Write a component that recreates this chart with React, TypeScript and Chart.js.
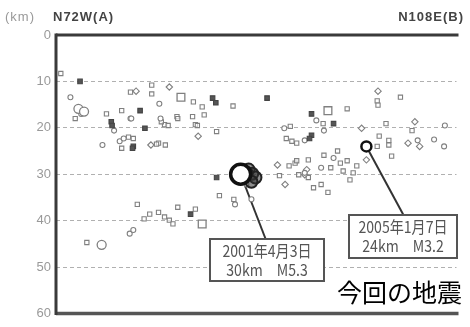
import React, { useEffect, useRef } from "react";
import { Chart, registerables } from "chart.js";
Chart.register(...registerables);

type P = [number, number]; // [distance km along profile, depth km]

const depthTicks = [0, 10, 20, 30, 40, 50, 60];
const titleLeft = "N72W(A)";
const titleRight = "N108E(B)";
const unitLabel = "(km)";
const headline = "今回の地震";

const openCircles: P[] = [
  [3.6, 13.4], [6.3, 17.0], [14.5, 20.6], [18.6, 18.0], [15.9, 22.9], [16.9, 22.3],
  [18.8, 18.0], [25.8, 14.8], [26.1, 18.0], [11.6, 23.7], [62.1, 22.7], [65.0, 18.4],
  [66.9, 20.6], [90.3, 22.7], [94.4, 22.5], [96.9, 24.0], [18.4, 42.8], [19.3, 42.0],
  [57.0, 20.1], [48.8, 35.4], [44.7, 36.5], [69.3, 26.5], [62.1, 29.7], [66.2, 28.6],
  [97.1, 19.5],
];

const largeCircles: P[] = [[11.4, 45.2], [5.6, 15.9], [7.0, 16.5]];

const smallSquares: P[] = [
  [1.2, 8.3], [4.8, 18.0], [12.6, 17.0], [16.4, 16.3], [18.6, 12.3], [23.9, 10.8],
  [23.9, 12.7], [27.1, 19.3], [28.0, 19.5], [30.2, 17.6], [18.1, 22.0], [19.3, 22.3],
  [16.4, 24.4], [25.6, 23.3], [27.3, 23.7], [34.3, 14.4], [36.5, 15.5], [37.0, 17.2],
  [44.2, 15.3], [34.1, 17.6], [34.8, 19.3], [30.4, 18.0], [40.1, 20.8], [26.3, 18.7],
  [35.3, 19.5], [25.1, 23.5], [40.8, 34.6], [44.4, 35.4], [55.8, 30.3], [58.2, 28.2],
  [59.7, 27.6], [58.5, 19.7], [57.5, 22.3], [58.9, 22.9], [23.4, 38.6], [25.6, 38.2],
  [27.1, 39.2], [28.3, 39.9], [29.2, 40.7], [30.4, 37.1], [34.8, 37.5], [7.7, 44.7],
  [20.3, 36.5], [22.0, 39.6], [80.2, 14.2], [80.4, 15.1], [86.0, 13.4], [72.7, 15.9],
  [66.7, 19.1], [82.4, 19.1], [88.9, 20.6], [80.7, 21.8], [83.1, 22.7], [80.2, 24.0],
  [83.1, 23.7], [83.8, 26.1], [66.9, 25.9], [60.1, 23.3], [70.3, 25.0], [71.0, 27.6],
  [68.6, 28.6], [72.7, 27.1], [71.7, 29.3], [75.1, 28.2], [74.2, 29.7], [73.4, 31.2],
  [63.0, 26.9], [63.0, 30.7], [64.3, 32.9], [66.2, 32.2], [67.9, 33.9], [60.6, 30.1],
  [60.1, 27.1], [47.6, 32.2],
];

const largeSquares: P[] = [[31.2, 13.4], [36.5, 40.7], [67.9, 16.3]];

const diamonds: P[] = [
  [28.3, 11.2], [20.0, 12.1], [23.7, 23.7], [35.5, 21.8], [55.3, 28.0], [57.2, 32.2],
  [62.1, 30.1], [80.4, 12.1], [76.3, 20.1], [89.6, 18.7], [87.9, 23.3], [90.8, 24.0],
  [77.5, 26.9], [62.6, 29.0],
];

const darkPoints: P[] = [
  [6.0, 10.0], [13.8, 18.7], [14.0, 19.5], [19.3, 24.0], [19.1, 24.4], [21.0, 16.3],
  [22.2, 20.1], [39.1, 13.6], [39.9, 14.6], [52.7, 13.6], [40.1, 30.7], [63.8, 17.0],
  [69.3, 19.1], [63.8, 21.6], [63.3, 22.3], [33.6, 38.6],
];

const aftershocks: P[] = [[48.1, 29.0], [49.0, 29.9], [49.8, 30.7], [48.8, 31.6], [47.6, 29.7]];

const mainShock: P[] = [[46.1, 30.0]];
const event2005: P[] = [[77.5, 24.0]];

const mainShockLabel = ["2001年4月3日", "30km　M5.3"];
const event2005Label = ["2005年1月7日", "24km　M3.2"];

const toXY = (arr: P[]) => arr.map(([x, y]) => ({ x, y }));

export default function App() {
  const ref = useRef<HTMLCanvasElement | null>(null);

  useEffect(() => {
    document.body.style.margin = "0";
    const canvas = ref.current;
    if (!canvas) return;

    const gray = "#808080";
    const base = {
      showLine: false,
      pointBorderWidth: 1.1,
      pointHoverRadius: 0,
    };

    const overlay = {
      id: "overlay",
      beforeDatasetsDraw(chart: any) {
        const { ctx, scales } = chart;
        const xs = scales.x, ys = scales.y;
        ctx.save();
        ctx.strokeStyle = "#333";
        ctx.lineWidth = 2;
        const lines = [
          { p: mainShock[0], to: [266, 240] },
          { p: event2005[0], to: [404, 216] },
        ];
        for (const l of lines) {
          ctx.beginPath();
          ctx.moveTo(xs.getPixelForValue(l.p[0]), ys.getPixelForValue(l.p[1]));
          ctx.lineTo(l.to[0], l.to[1]);
          ctx.stroke();
        }
        ctx.restore();
      },
      afterDatasetsDraw(chart: any) {
        const { ctx, chartArea } = chart;
        ctx.save();
        // frame lines
        ctx.strokeStyle = "#3a3a3a";
        ctx.lineWidth = 3;
        ctx.beginPath();
        ctx.moveTo(chartArea.left, chartArea.top);
        ctx.lineTo(chartArea.right + 2, chartArea.top);
        ctx.stroke();
        ctx.strokeStyle = "#555";
        ctx.lineWidth = 3.5;
        ctx.beginPath();
        ctx.moveTo(chartArea.left, chartArea.bottom);
        ctx.lineTo(chartArea.right + 2, chartArea.bottom);
        ctx.stroke();
        ctx.strokeStyle = "#3a3a3a";
        ctx.lineWidth = 3;
        ctx.beginPath();
        ctx.moveTo(chartArea.left, chartArea.top - 1.5);
        ctx.lineTo(chartArea.left, chartArea.bottom + 1.5);
        ctx.stroke();

        // boxes
        const boxes = [
          { x: 210, y: 239, w: 114, h: 42, text: mainShockLabel },
          { x: 349, y: 215, w: 108, h: 43, text: event2005Label },
        ];
        for (const b of boxes) {
          ctx.fillStyle = "#fff";
          ctx.fillRect(b.x, b.y, b.w, b.h);
          ctx.strokeStyle = "#555";
          ctx.lineWidth = 2;
          ctx.strokeRect(b.x, b.y, b.w, b.h);
          ctx.fillStyle = "#555";
          ctx.font = '16px "Noto Sans CJK JP"';
          ctx.textAlign = "center";
          ctx.textBaseline = "middle";
          const cx = b.x + b.w / 2;
          ctx.save();
          ctx.translate(cx, 0);
          ctx.scale(0.88, 1);
          ctx.fillText(b.text[0], 0, b.y + 12);
          ctx.fillText(b.text[1], 0, b.y + 31);
          ctx.restore();
        }

        // headline
        ctx.fillStyle = "#000";
        ctx.font = '25px "Noto Sans CJK JP"';
        ctx.textAlign = "left";
        ctx.textBaseline = "middle";
        ctx.fillText(headline, 337, 292);

        // titles
        ctx.textBaseline = "middle";
        ctx.fillStyle = "#999";
        ctx.font = '13px "Liberation Sans"';
        (ctx as any).letterSpacing = "1px";
        ctx.fillText(unitLabel, 5, 17);
        ctx.fillStyle = "#444";
        ctx.font = 'bold 13px "Liberation Sans"';
        ctx.fillText(titleLeft, 53, 17);
        ctx.textAlign = "right";
        ctx.fillText(titleRight, 464, 17);
        (ctx as any).letterSpacing = "0px";
        ctx.restore();
      },
    };

    const chart = new Chart(canvas, {
      type: "scatter",
      data: {
        datasets: [
          { ...base, data: toXY(mainShock), pointStyle: "circle", pointRadius: 10, pointBorderWidth: 3.5, pointBorderColor: "#111", pointBackgroundColor: "#fff" },
          { ...base, data: toXY(event2005), pointStyle: "circle", pointRadius: 5, pointBorderWidth: 2.5, pointBorderColor: "#111", pointBackgroundColor: "#fff" },
          { ...base, data: toXY(aftershocks), pointStyle: "circle", pointRadius: 6, pointBorderWidth: 2, pointBorderColor: "#222", pointBackgroundColor: "rgba(50,50,50,0.55)" },
          { ...base, data: toXY(darkPoints), pointStyle: "rect", pointRadius: 3.2, pointBorderColor: "#444", pointBackgroundColor: "#555" },
          { ...base, data: toXY(largeCircles), pointStyle: "circle", pointRadius: 4.5, pointBorderWidth: 1.3, pointBorderColor: gray, pointBackgroundColor: "#fff" },
          { ...base, data: toXY(largeSquares), pointStyle: "rect", pointRadius: 5.5, pointBorderWidth: 1.3, pointBorderColor: gray, pointBackgroundColor: "#fff" },
          { ...base, data: toXY(openCircles), pointStyle: "circle", pointRadius: 2.5, pointBorderColor: gray, pointBackgroundColor: "#fff" },
          { ...base, data: toXY(diamonds), pointStyle: "rectRot", pointRadius: 3.2, pointBorderColor: gray, pointBackgroundColor: "#fff" },
          { ...base, data: toXY(smallSquares), pointStyle: "rect", pointRadius: 3.0, pointBorderColor: gray, pointBackgroundColor: "rgba(255,255,255,0.6)" },
        ],
      },
      options: {
        animation: false,
        responsive: false,
        events: [],
        layout: { padding: { top: 35, bottom: 9, left: 0, right: 0 } },
        plugins: { legend: { display: false }, tooltip: { enabled: false } },
        scales: {
          x: { type: "linear", min: 0, max: 100, display: false },
          y: {
            type: "linear",
            reverse: true,
            min: 0,
            max: 60,
            afterFit: (s: any) => { s.width = 56; },
            afterBuildTicks: (s: any) => { s.ticks = depthTicks.map((v) => ({ value: v })); },
            ticks: {
              color: "#999",
              padding: 5,
              font: { family: "Liberation Sans", size: 13 },
            },
            grid: {
              drawTicks: false,
              lineWidth: 1,
              color: (c: any) => (c.tick && (c.tick.value === 0 || c.tick.value === 60) ? "transparent" : "#b0b0b0"),
            },
            border: { display: false, dash: [4, 3] },
          },
        },
      },
      plugins: [overlay],
    });
    return () => chart.destroy();
  }, []);

  return (
    <div style={{ width: 470, height: 327, overflow: "hidden", position: "relative" }}>
      <canvas ref={ref} width={470} height={327} style={{ display: "block" }} />
    </div>
  );
}
